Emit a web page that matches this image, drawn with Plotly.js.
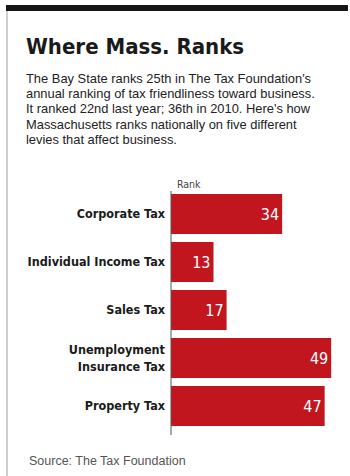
<!DOCTYPE html>
<html><head><meta charset="utf-8">
<script src="https://cdn.plot.ly/plotly-3.0.1.min.js"></script>
<style>html,body{margin:0;padding:0;background:#fff}#chart{width:350px;height:476px}</style>
</head><body><div id="chart"></div>
<script>
const categories = ["Corporate Tax", "Individual Income Tax", "Sales Tax", "Unemployment<br>Insurance Tax", "Property Tax"];
const ranks = [34, 13, 17, 49, 47];
const titleText = "Where Mass. Ranks";
const subtitleLines = [
  "The Bay State ranks 25th in The Tax Foundation's",
  "annual ranking of tax friendliness toward business.",
  "It ranked 22nd last year; 36th in 2010. Here's how",
  "Massachusetts ranks nationally on five different",
  "levies that affect business."
];
const sourceText = "Source: The Tax Foundation";

const W = 350, H = 476;
const L = 171, R = 9, T = 190, B = 46;
const pw = W - L - R, ph = H - T - B;
const px = x => (x - L) / pw;
const py = y => (H - B - y) / ph;

const narrow = "Liberation Sans Narrow, DejaVu Sans Condensed, Arial Narrow, sans-serif";
const regular = "Liberation Sans, Arial, sans-serif";

const annotations = [];
annotations.push({xref:"paper", yref:"paper", x:px(24), y:py(47), xanchor:"left", yanchor:"middle",
  text:titleText, showarrow:false, font:{family:narrow, size:22, weight:"bold", color:"#1a1a1a"}});
subtitleLines.forEach((t,i)=>{
  annotations.push({xref:"paper", yref:"paper", x:px(24), y:py(78.5 + i*15.2), xanchor:"left", yanchor:"middle",
    text:t, showarrow:false, font:{family:regular, size:12.9, color:"#222"}});
});
annotations.push({xref:"paper", yref:"paper", x:px(175), y:py(184), xanchor:"left", yanchor:"middle",
  text:"Rank", showarrow:false, font:{family:narrow, size:10.5, color:"#444"}});
annotations.push({xref:"paper", yref:"paper", x:px(27), y:py(461), xanchor:"left", yanchor:"middle",
  text:sourceText, showarrow:false, font:{family:regular, size:12.5, color:"#555"}});

const shapes = [
  {type:"rect", xref:"paper", yref:"paper", x0:px(6), x1:px(348), y0:py(5), y1:py(11), fillcolor:"#161616", line:{width:0}},
  {type:"line", xref:"paper", yref:"paper", x0:px(7), x1:px(7), y0:py(11), y1:py(476), line:{color:"#cfcfcf", width:2}},
  {type:"line", xref:"paper", yref:"paper", x0:px(171), x1:px(171), y0:py(191), y1:py(435), line:{color:"#555", width:1}}
];

Plotly.newPlot("chart", [{
  type:"bar", orientation:"h", y:categories, x:ranks,
  marker:{color:"#c2161f"},
  text:ranks.map(String), textposition:"inside", insidetextanchor:"end",
  textfont:{family:narrow, size:16, color:"#ffffff"},
  hoverinfo:"none", cliponaxis:false
}], {
  width:W, height:H, margin:{l:L, r:R, t:T, b:B},
  paper_bgcolor:"#fff", plot_bgcolor:"#fff",
  showlegend:false, bargap:0.17,
  xaxis:{range:[0,52], visible:false, fixedrange:true},
  yaxis:{autorange:"reversed", showline:false, showgrid:false, zeroline:false, ticks:"", ticklabelstandoff:5,
    tickfont:{family:narrow, size:12.5, weight:"bold", color:"#1a1a1a"}, fixedrange:true},
  annotations, shapes
}, {displayModeBar:false, staticPlot:true});
</script></body></html>
